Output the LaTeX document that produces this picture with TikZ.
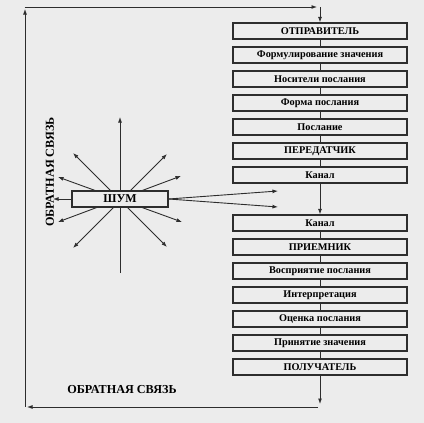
\documentclass[tikz,border=0pt]{standalone}
\usepackage{fontspec}
\setmainfont{Liberation Serif}
\usetikzlibrary{arrows.meta}
\definecolor{paper}{RGB}{236,236,236}
\definecolor{ink}{RGB}{45,45,45}
\tikzset{
  every node/.style={text=black},
  boxnode/.style={draw=ink, line width=1.1pt, fill=paper, minimum width=174pt, minimum height=16pt, inner sep=0pt, font=\bfseries\fontsize{10.3}{11}\selectfont},
  conn/.style={draw=ink, line width=0.9pt},
  arr/.style={conn, -{Latex[length=5.5pt,width=4pt]}},
  barr/.style={conn, {Latex[length=5.5pt,width=4pt]}-{Latex[length=5.5pt,width=4pt]}},
  fbtext/.style={font=\bfseries\fontsize{12.2}{13}\selectfont}
}
\begin{document}
\begin{tikzpicture}[x=1pt,y=-1pt]
\fill[paper] (0,0) rectangle (424,423);
\useasboundingbox (0,0) rectangle (424,423);
% boxes
\foreach \n/\t [count=\i from 0] in {b1/ОТПРАВИТЕЛЬ, b2/Формулирование значения, b3/Носители послания, b4/Форма послания, b5/Послание, b6/ПЕРЕДАТЧИК, b7/Канал}
  \node[boxnode] (\n) at (320,31+24*\i) {\t};
\foreach \n/\t [count=\i from 0] in {b8/Канал, b9/ПРИЕМНИК, b10/Восприятие послания, b11/Интерпретация, b12/Оценка послания, b13/Принятие значения, b14/ПОЛУЧАТЕЛЬ}
  \node[boxnode] (\n) at (320,223+24*\i) {\t};
% connectors
\foreach \a/\b in {b1/b2,b2/b3,b3/b4,b4/b5,b5/b6,b6/b7,b8/b9,b9/b10,b10/b11,b11/b12,b12/b13,b13/b14}
  \draw[conn] (\a.south) -- (\b.north);
\draw[arr] (b7.south) -- (b8.north);
% feedback loop
\coordinate (bt) at (320,404);
\coordinate (br) at (318,407);
\coordinate (bl) at (27,407);
\coordinate (lb) at (25,407);
\coordinate (lt) at (25,9);
\coordinate (tl) at (25,7);
\coordinate (tr) at (317,7);
\coordinate (tv) at (320,7);
\draw[arr] (b14.south) -- (bt);
\draw[arr] (br) -- (bl);
\draw[arr] ([yshift=0.45pt]lb) -- (lt);
\draw[arr] ([xshift=-0.45pt]tl) -- (tr);
\draw[arr] (tv) -- (b1.north);
% noise
\coordinate (nc) at (120,199);
\coordinate (v1) at (120,117);
\coordinate (v2) at (120,273);
\coordinate (d1a) at (73,153);
\coordinate (d1b) at (167,247);
\coordinate (d2a) at (167,154);
\coordinate (d2b) at (73,248);
\coordinate (s1a) at (58,177);
\coordinate (s1b) at (182,222);
\coordinate (s2a) at (181,176);
\coordinate (s2b) at (58,222);
\coordinate (hl) at (53,199);
\coordinate (ch1) at (278,191);
\coordinate (ch2) at (278,207);
\draw[arr] (v2) -- (v1);
\draw[barr] (d1a) -- (d1b);
\draw[barr] (d2a) -- (d2b);
\draw[barr] (s1a) -- (s1b);
\draw[barr] (s2a) -- (s2b);
\node[boxnode, minimum width=96pt, font=\bfseries\fontsize{12}{13}\selectfont] (shum) at (nc) {ШУМ};
\draw[arr] (shum.west) -- (hl);
\draw[arr] (shum.east) -- (ch1);
\draw[arr] (shum.east) -- (ch2);
% labels
\node[fbtext, rotate=90] (fbv) at (50,172) {ОБРАТНАЯ СВЯЗЬ};
\node[fbtext] (fbh) at (122,390) {ОБРАТНАЯ СВЯЗЬ};
\end{tikzpicture}
\end{document}
